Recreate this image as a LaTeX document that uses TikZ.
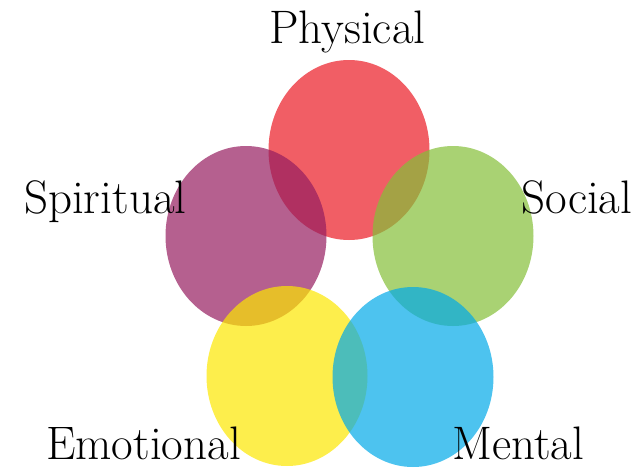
\documentclass[tikz,border=0pt]{standalone}
\usepackage{fontspec}
\usetikzlibrary{shapes.geometric}
\definecolor{cred}{RGB}{235,26,36}
\definecolor{cpurple}{RGB}{149,29,95}
\definecolor{cgreen}{RGB}{132,191,56}
\definecolor{cyellow}{RGB}{252,231,0}
\definecolor{cblue}{RGB}{1,169,232}
\tikzset{
  blob/.style={ellipse, draw=none, fill opacity=0.7, inner sep=0pt,
    minimum width=161pt, minimum height=180pt},
  lbl/.style={anchor=base west, inner sep=0pt, text=black,
    font=\fontsize{47}{47}\selectfont}
}
\begin{document}
\begin{tikzpicture}[x=1pt,y=-1pt]
\useasboundingbox (0,0) rectangle (641,469);
\node[blob, fill=cred]    (physical)  at (349,150) {};
\node[blob, fill=cpurple] (spiritual) at (246,236) {};
\node[blob, fill=cgreen]  (social)    at (453,236) {};
\node[blob, fill=cyellow] (emotional) at (287,376) {};
\node[blob, fill=cblue]   (mental)    at (413,377) {};
\node[lbl] (tphys) at (269,43)  {Physical};
\node[lbl] (tspir) at (24,213)  {Spiritual};
\node[lbl] (tsoc)  at (521,213) {Social};
\node[lbl] (temo)  at (46,459)  {Emotional};
\node[lbl] (tment) at (452,459) {Mental};
\end{tikzpicture}
\end{document}
